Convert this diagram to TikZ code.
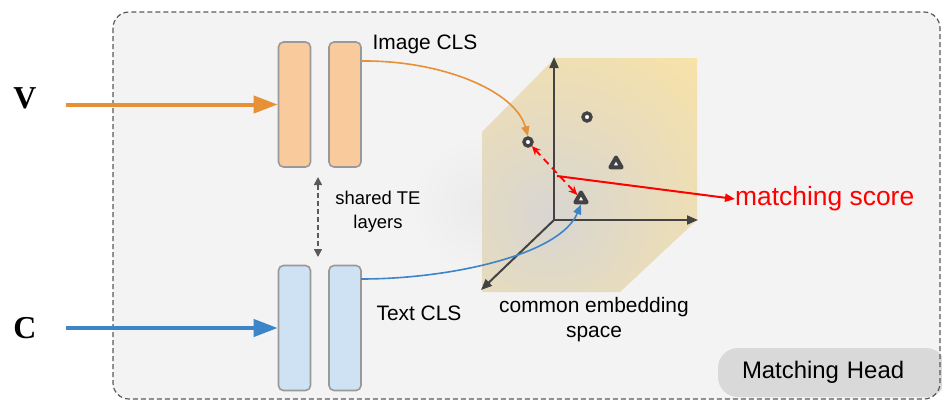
\documentclass[tikz,border=0pt]{standalone}
\usepackage{fontspec}
\setmainfont{Liberation Sans}
\newfontfamily\vcfont{Liberation Serif}
\usetikzlibrary{arrows.meta,shapes.geometric}
\definecolor{bgc}{HTML}{F3F3F3}
\definecolor{frame}{HTML}{5A5A5A}
\definecolor{ocol}{HTML}{E69138}
\definecolor{bcol}{HTML}{3D85C6}
\definecolor{ofill}{HTML}{F9CB9C}
\definecolor{bfill}{HTML}{CFE2F3}
\definecolor{bord}{HTML}{999999}
\definecolor{dk}{HTML}{434343}
\definecolor{mhc}{HTML}{D9D9D9}
\definecolor{yel}{HTML}{FDE4A0}
\definecolor{gry}{HTML}{D8D6D2}
\definecolor{shd}{HTML}{EBEBEB}
\definecolor{rd}{HTML}{FF0000}
\begin{document}
\begin{tikzpicture}[x=1bp,y=-1bp,
  bar/.style={draw=bord, line width=1.6bp, rounded corners=5bp, minimum height=125bp, inner sep=0pt},
  obar/.style={bar, fill=ofill, minimum width=32bp},
  bbar/.style={bar, fill=bfill, minimum width=32bp},
  lbl/.style={font=\fontsize{21}{25}\selectfont, align=center, inner sep=0pt},
  vc/.style={font=\vcfont\bfseries\fontsize{32}{32}\selectfont, inner sep=0pt},
  inarrow/.style={line width=4bp, -{Triangle[length=24bp,width=17bp]}},
  axis/.style={dk, line width=2bp, -{Triangle[length=11bp,width=9bp]}},
  ring/.style={circle, draw=dk, line width=3.4bp, fill=white, inner sep=0pt, minimum size=8bp},
  tri/.style={regular polygon, regular polygon sides=3, draw=dk, line width=4bp, line join=round, fill=white, inner sep=0pt, minimum size=13bp},
  curve/.style={line width=1.6bp, -{Triangle[length=10bp,width=8bp]}}]
\useasboundingbox (0,0) rectangle (942,401);
\fill[white] (0,0) rectangle (942,401);
% outer panel
\fill[bgc, rounded corners=16bp] (113,12) rectangle (940,399);
% matching head
\node[fill=mhc, rounded corners=20bp, minimum width=228bp, minimum height=49bp, inner xsep=24bp, text width=180bp, align=left, font=\fontsize{24}{28}\selectfont] (mh) at (832,372.5) {Matching Head};
\draw[frame, line width=1.2bp, dash pattern=on 5bp off 3bp, rounded corners=16bp] (113,12) rectangle (940,399);

% soft shadow and embedding space box
\shade[inner color=shd, outer color=bgc] (480,205) circle (70);
\begin{scope}
\clip (482,132) -- (555,58) -- (697,58) -- (697,220) -- (620,292) -- (482,292) -- cycle;
\shade[inner color=gry, outer color=yel] (550,215) circle (250);
\end{scope}

% bars
\node[obar] (o1) at (294.5,104.5) {};
\node[obar] (o2) at (345,104.5) {};
\node[bbar] (b1) at (294.5,328) {};
\node[bbar] (b2) at (345,328) {};

% inputs
\node[vc] (V) at (25,98) {V};
\node[vc] (C) at (25,328) {C};
\coordinate (vs) at (66,104.5);
\coordinate (cs) at (66,328);
\draw[ocol, inarrow] (vs) -- (o1.west);
\draw[bcol, inarrow] (cs) -- (b1.west);

% shared layers
\coordinate (sa) at (318,177);
\coordinate (sb) at (318,257);
\draw[frame, line width=1.6bp, dash pattern=on 5bp off 3bp, {Triangle[length=8bp,width=8bp]}-{Triangle[length=8bp,width=8bp]}] (sa) -- (sb);
\node[lbl, font=\fontsize{18.5}{24}\selectfont] (sh) at (378,212) {shared TE\\layers};

\node[lbl] (icls) at (425,44) {Image CLS};
\node[lbl] (tcls) at (419,313) {Text CLS};
\node[lbl] (ces) at (594,320) {common embedding\\space};

% axes
\coordinate (O) at (554,220);
\coordinate (ay) at (554,57);
\coordinate (ax) at (698,220);
\coordinate (az) at (481,290);
\draw[axis] (O) -- (ay);
\draw[axis] (O) -- (ax);
\draw[axis] (O) -- (az);

% points
\node[ring] (c1) at (528,142) {};
\node[ring] (c2) at (587,117) {};
\node[tri] (t1) at (616,164) {};
\node[tri] (t2) at (581,199) {};

% curves
\coordinate (os) at (361,61);
\coordinate (bs) at (361,279);
\draw[ocol, curve] (os) .. controls (440,60) and (515,90) .. (c1.north);
\draw[bcol, curve] (bs) .. controls (450,279) and (560,255) .. (t2.south);

% red
\draw[rd, line width=1.8bp, dash pattern=on 7bp off 5bp, {Stealth[length=9bp,width=8bp,inset=3bp]}-{Stealth[length=9bp,width=8bp,inset=3bp]}] (c1) -- (t2);
\coordinate (rs) at (557,176);
\node[font=\fontsize{26.5}{30}\selectfont, text=rd, anchor=west, inner sep=0pt] (ms) at (735,199) {matching score};
\draw[rd, line width=2bp, -{Triangle[length=10bp,width=8bp]}] (rs) -- (ms.west);
\end{tikzpicture}
\end{document}
